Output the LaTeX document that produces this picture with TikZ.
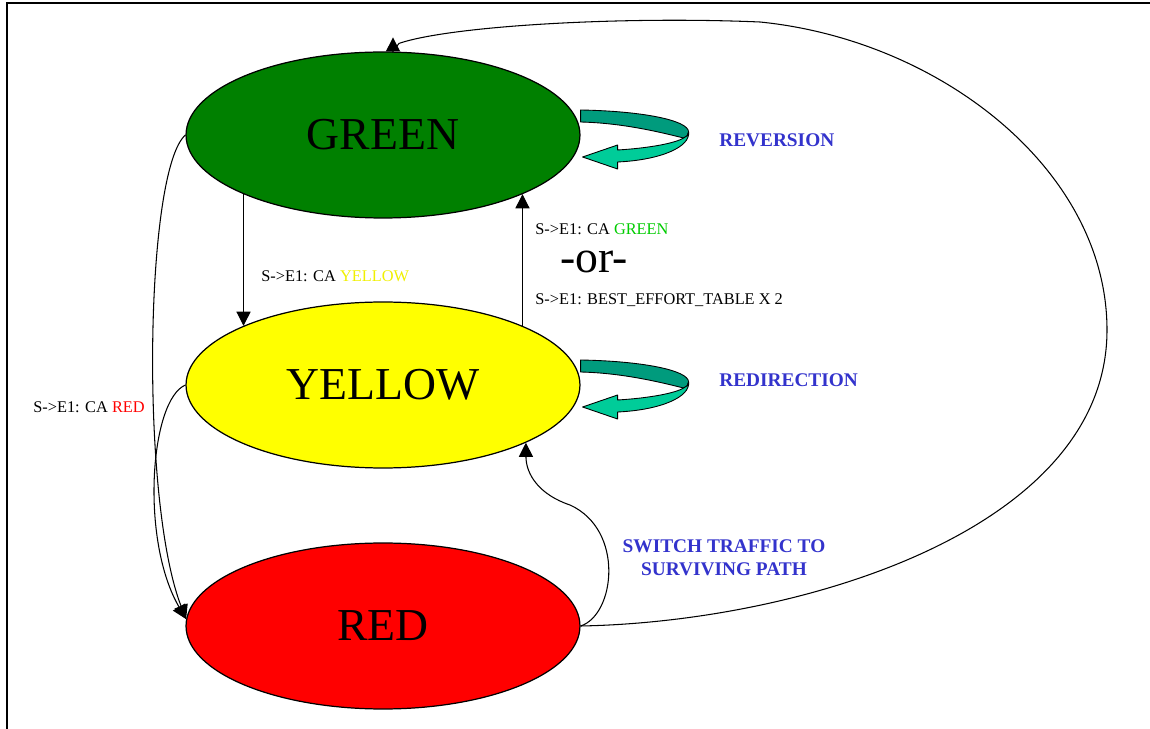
\documentclass[tikz,border=0pt]{standalone}
\usepackage{fontspec}
\setmainfont{Liberation Serif}
\usetikzlibrary{shapes.geometric,arrows.meta}

\definecolor{stgreen}{RGB}{0,128,0}
\definecolor{styellow}{RGB}{255,255,0}
\definecolor{stred}{RGB}{255,0,0}
\definecolor{noteblue}{RGB}{51,51,204}
\definecolor{lblgreen}{RGB}{0,204,0}
\definecolor{lblyellow}{RGB}{240,240,0}
\definecolor{curldark}{RGB}{0,155,125}
\definecolor{curllight}{RGB}{0,204,153}

\tikzset{
  state/.style={ellipse, draw=black, line width=0.7pt, minimum width=7.88cm,
    minimum height=3.32cm, inner sep=0pt, font=\fontsize{26}{30}\selectfont},
  arr/.style={line width=0.6pt, -{Triangle[length=8pt,width=8pt]}},
  lbl/.style={anchor=base west, inner sep=0pt, font=\fontsize{9.3}{11}\selectfont},
  note/.style={inner sep=0pt, text=noteblue, font=\fontsize{11}{13}\selectfont\bfseries},
  curl/.pic={
    \draw[fill=curldark, line width=0.5pt, line join=round]
      (0,-25) .. controls (60,-24) and (108,-15) .. (108,-3)
      .. controls (108,0) and (106,2) .. (103,3)
      .. controls (75,-4) and (40,-12) .. (0,-13) -- cycle;
    \draw[fill=curllight, line width=0.5pt, line join=round]
      (108,-3) .. controls (110,12) and (80,25) .. (37,27)
      -- (37,34) -- (2,22) -- (37,10) -- (37,15)
      .. controls (70,13) and (95,8) .. (103,3)
      .. controls (106,2) and (108,0) .. (108,-3) -- cycle;
  }
}

\begin{document}
\begin{tikzpicture}[x=0.02cm, y=-0.02cm]
\useasboundingbox (0,0) rectangle (1150,729);
% frame
\draw[line width=0.9pt] (7,729) -- (7,3) -- (1150,3);

% states
\node[state, fill=stgreen] (green) at (383,135) {GREEN};
\node[state, fill=styellow] (yellow) at (383,385) {YELLOW};
\node[state, fill=stred] (red) at (383,626) {RED};

% self loops
\pic (greenloop) at (green.east) {curl};
\pic (yellowloop) at (yellow.east) {curl};

% transitions
\draw[arr] (green.203) -- (yellow.157);
\draw[arr] (yellow.23) -- (green.337);
\draw[arr] (green.west) .. controls (145,170) and (140,500) .. (red.178);
\draw[arr] (yellow.west) .. controls (150,400) and (140,540) .. (red.178);
\draw[arr] (red.east) .. controls (615,615) and (625,530) .. (570,505)
  .. controls (540,495) and (526,475) .. (yellow.338);
\draw[arr] (red.east) .. controls (800,622) and (1107,530) .. (1107,330)
  .. controls (1107,170) and (940,40) .. (760,22)
  .. controls (620,16) and (450,26) .. ([shift={(16,-8)}]green.north)
  -- ([shift={(10,0)}]green.north) -- ([shift={(10,-14)}]green.north);

% labels
\node[lbl] (lblyellow) at (261,282) {S->E1: CA \textcolor{lblyellow}{YELLOW}};
\node[lbl] (lblgreen) at (535,235) {S->E1: CA \textcolor{lblgreen}{GREEN}};
\node[anchor=base west, inner sep=0pt, font=\fontsize{26}{30}\selectfont] (lblor) at (560,273) {-or-};
\node[lbl] (lblbest) at (535,305) {S->E1: BEST\_EFFORT\_TABLE X 2};
\node[lbl] (lblred) at (33,413) {S->E1: CA \textcolor{stred}{RED}};

\node[note, anchor=base west] (reversion) at (719,147) {REVERSION};
\node[note, anchor=base west] (redirection) at (719,387) {REDIRECTION};
\node[note, align=center] (switch) at (724,558) {SWITCH TRAFFIC TO\\SURVIVING PATH};
\end{tikzpicture}
\end{document}
